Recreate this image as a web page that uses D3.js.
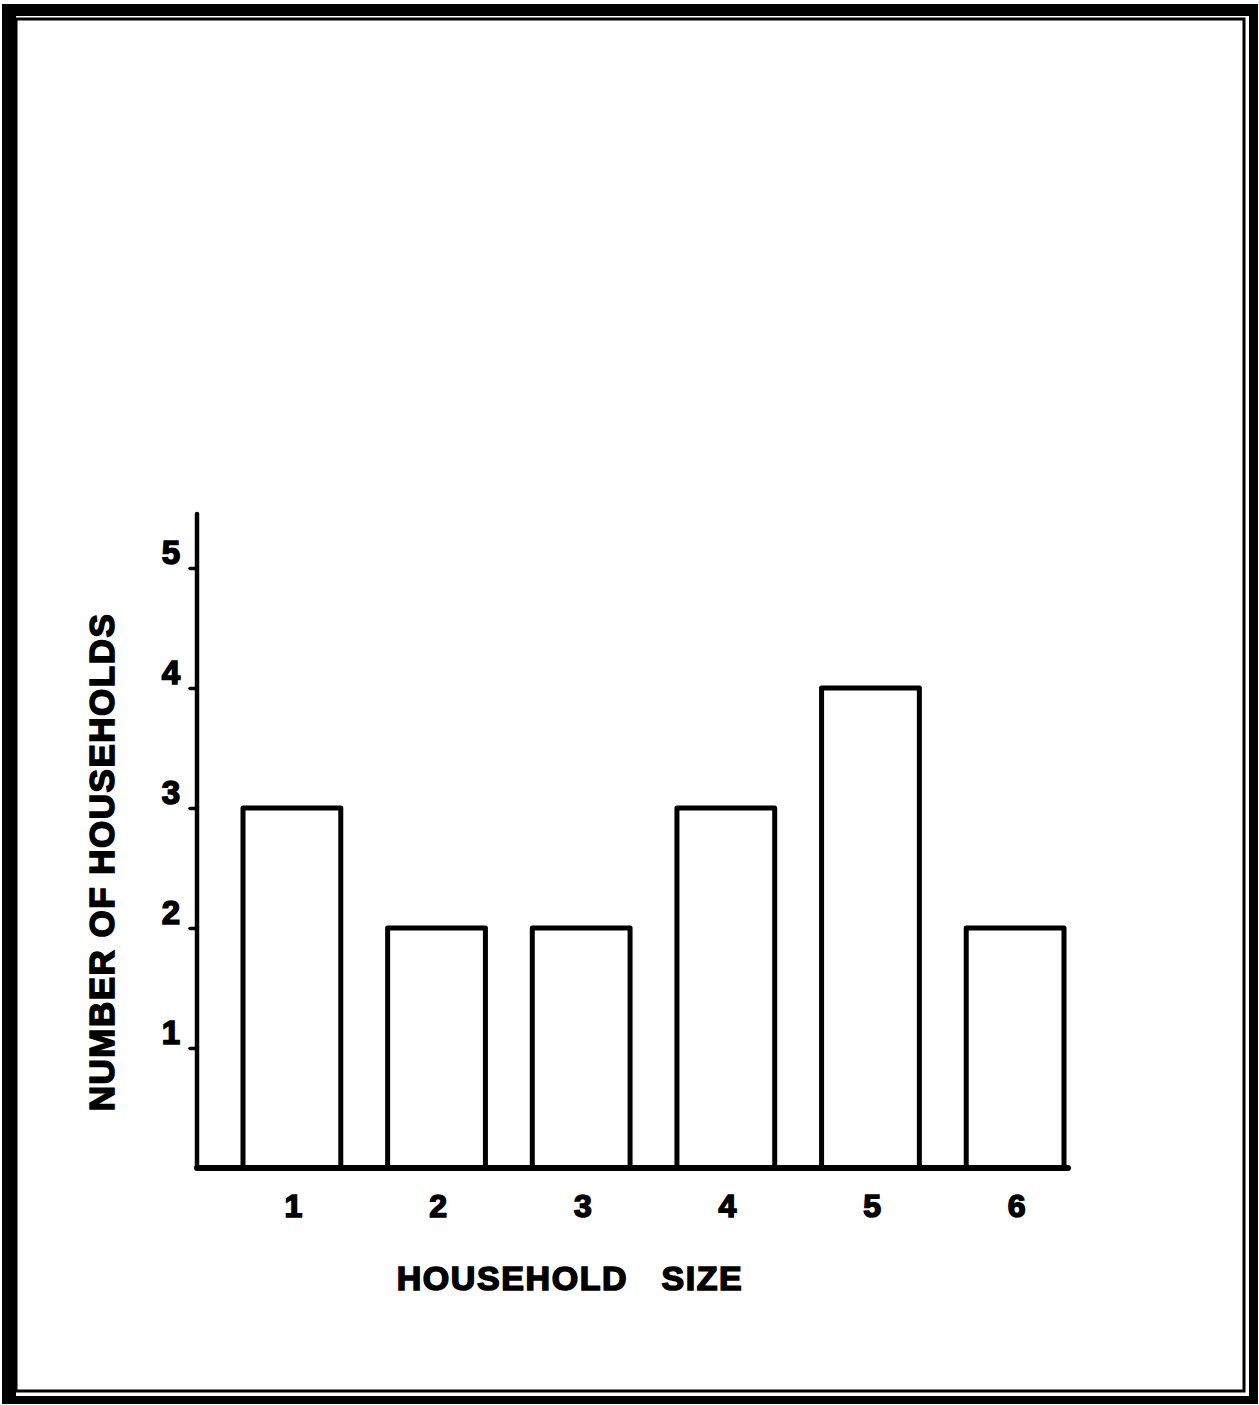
<!DOCTYPE html>
<html>
<head>
<meta charset="utf-8">
<script src="https://cdn.jsdelivr.net/npm/d3@7"></script>
<style>
  html, body { margin: 0; padding: 0; background: #fff; }
  svg { display: block; }
  text { font-family: "Liberation Sans", Arial, Helvetica, sans-serif; font-weight: bold; fill: #000; }
</style>
</head>
<body>
<svg id="chart" width="1259" height="1405"></svg>
<script>
const categories = ["1", "2", "3", "4", "5", "6"];
const households = [3, 2, 2, 3, 4, 2];
const yTicks = [1, 2, 3, 4, 5];
const xTitle = "HOUSEHOLD\u00a0\u00a0\u00a0SIZE";
const yTitle = "NUMBER OF HOUSEHOLDS";

const svg = d3.select("#chart");

// frame
svg.append("rect").attr("x", 2).attr("y", 4).attr("width", 1256).attr("height", 1400).attr("fill", "#000");
svg.append("rect").attr("x", 16).attr("y", 16).attr("width", 1233).attr("height", 1380).attr("fill", "#fff");
svg.append("rect").attr("x", 16).attr("y", 19).attr("width", 1228).attr("height", 1372)
  .attr("fill", "none").attr("stroke", "#000").attr("stroke-width", 3);

const y = d3.scaleLinear().domain([0, 5]).range([1168, 568]);
const x = d3.scaleBand().domain(categories).range([243, 1064]).paddingInner(0.324).paddingOuter(0);

const axisX0 = 197, axisX1 = 1068;
const fontFam = "'Liberation Sans', Arial, sans-serif";

// bars (open at the bottom, sitting on the baseline)
svg.append("g").selectAll("path").data(households).join("path")
  .attr("d", (d, i) => {
    const x0 = x(categories[i]), x1 = x0 + x.bandwidth();
    return `M${x0},${y(0)}V${y(d)}H${x1}V${y(0)}`;
  })
  .attr("fill", "none").attr("stroke", "#000").attr("stroke-width", 5)
  .attr("stroke-linejoin", "round").attr("stroke-linecap", "round");

// y axis
const yAxis = d3.axisLeft(y).tickValues(yTicks).tickSize(7).tickPadding(10).tickFormat(d3.format("d"));
const gy = svg.append("g").attr("transform", `translate(${axisX0},0)`).call(yAxis);
gy.select(".domain").remove();
gy.selectAll(".tick line").attr("stroke", "#000").attr("stroke-width", 3.5).attr("stroke-linecap", "round");
gy.selectAll(".tick text").attr("font-size", 33).attr("dy", "-0.15em")
  .attr("stroke", "#000").attr("stroke-width", 1.6)
  .style("font-family", fontFam).style("font-weight", "bold");
svg.append("line").attr("x1", axisX0).attr("x2", axisX0).attr("y1", y(0)).attr("y2", y(5.45))
  .attr("stroke", "#000").attr("stroke-width", 4.5).attr("stroke-linecap", "round");

// x axis
const xAxis = d3.axisBottom(x).tickSize(0).tickPadding(26);
const gx = svg.append("g").attr("transform", `translate(0,${y(0)})`).call(xAxis);
gx.select(".domain").remove();
gx.selectAll(".tick text").attr("font-size", 32).attr("dx", "0.05em")
  .attr("stroke", "#000").attr("stroke-width", 1.6)
  .style("font-family", fontFam).style("font-weight", "bold");
svg.append("line").attr("x1", axisX0).attr("x2", axisX1).attr("y1", y(0)).attr("y2", y(0))
  .attr("stroke", "#000").attr("stroke-width", 6).attr("stroke-linecap", "round");

// titles
svg.append("text").attr("x", 570).attr("y", 1290).attr("text-anchor", "middle")
  .attr("font-size", 34).attr("letter-spacing", 1.6)
  .attr("stroke", "#000").attr("stroke-width", 1.6).text(xTitle);
svg.append("text").attr("transform", "translate(114,862) rotate(-90)").attr("text-anchor", "middle")
  .attr("font-size", 35).attr("letter-spacing", 1.5)
  .attr("stroke", "#000").attr("stroke-width", 1.6).text(yTitle);
</script>
</body>
</html>
